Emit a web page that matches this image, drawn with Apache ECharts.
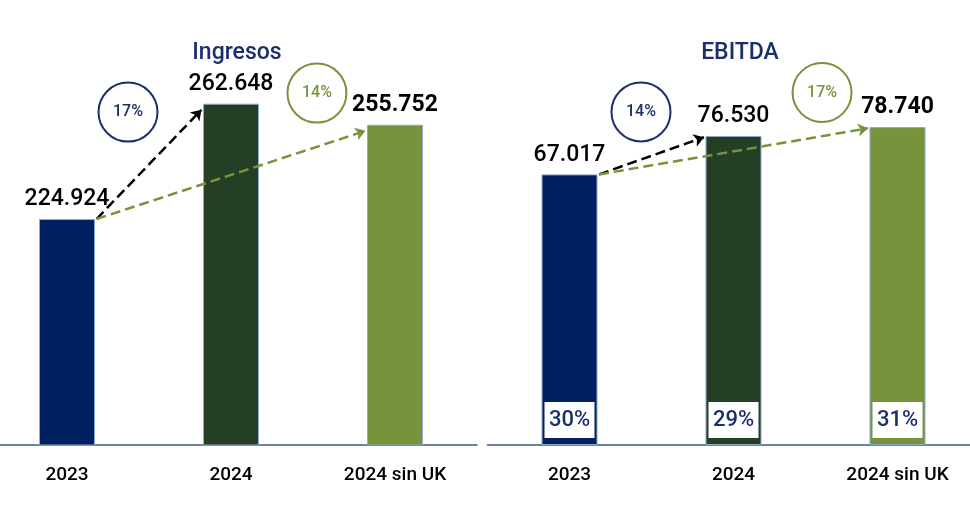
<!DOCTYPE html>
<html>
<head>
<meta charset="utf-8">
<script src="https://cdn.jsdelivr.net/npm/echarts@6/dist/echarts.min.js"></script>
<style>html,body{margin:0;padding:0;background:#fff}#c{width:970px;height:518px}</style>
</head>
<body>
<div id="c"></div>
<script>
// ---- data ----
const categories = ['2023', '2024', '2024 sin UK'];
const ingresos = [224.924, 262.648, 255.752];
const ingresosLabels = ['224.924', '262.648', '255.752'];
const ebitda = [67.017, 76.530, 78.740];
const ebitdaLabels = ['67.017', '76.530', '78.740'];
const ebitdaMargin = ['30%', '29%', '31%'];
const ingresosGrowth = ['17%', '14%'];   // 2023->2024, 2023->2024 sin UK
const ebitdaGrowth = ['14%', '17%'];

// ---- styles ----
const barColors = ['#012060', '#243F24', '#77933C'];
const navy = '#1B2F6B';
const green = '#77933C';
const FONT = 'Roboto, "DejaVu Sans Condensed", sans-serif';

// annotation positions (data space of each panel: x in category index units)
const ingCircles = [[0.372, 259.9], [1.524, 266.1]];
const ebCircles = [[0.436, 82.5], [1.54, 87.3]];

const HW = 0.18; // half bar width in category units

function barSeries(vals, labels, xi, yi) {
  return {
    type: 'bar', xAxisIndex: xi, yAxisIndex: yi, barWidth: 56, silent: true,
    data: vals.map((v, i) => ({
      value: v,
      itemStyle: { color: barColors[i] },
      label: { formatter: labels[i], fontWeight: i === 2 ? 'bold' : 500 }
    })),
    itemStyle: { borderColor: '#8FA9D0', borderWidth: 1 },
    label: { show: true, position: 'top', distance: 8, color: '#000', fontSize: 23, fontFamily: FONT }
  };
}

function arrows(vals, off, xi, yi) {
  return [
    { color: '#000', to: 1 },
    { color: green, to: 2 }
  ].map(a => ({
    type: 'lines', coordinateSystem: 'cartesian2d', xAxisIndex: xi, yAxisIndex: yi,
    silent: true, z: 5,
    symbol: ['none', 'arrow'], symbolSize: 10,
    lineStyle: { color: a.color, type: 'dashed', width: 2.5, opacity: 1, curveness: 0 },
    data: [{ coords: [[0 + HW, vals[0]], [a.to - HW, vals[a.to] - off]] }]
  }));
}

function circles(pos, texts, xi, yi) {
  const cols = [navy, green];
  return {
    type: 'scatter', xAxisIndex: xi, yAxisIndex: yi, silent: true, z: 6,
    symbol: 'circle', symbolSize: 59,
    data: pos.map((p, i) => ({
      value: p,
      itemStyle: { color: 'rgba(255,255,255,0)', borderColor: cols[i], borderWidth: 2, opacity: 1 },
      label: { show: true, position: 'inside', formatter: texts[i], color: cols[i], fontSize: 16, fontWeight: 500, fontFamily: FONT }
    }))
  };
}

const catAxis = (gi) => ({
  type: 'category', gridIndex: gi, data: categories,
  axisLine: { show: true, onZero: false, lineStyle: { color: '#3E5A8C', width: 1.5 } },
  axisTick: { show: false },
  axisLabel: { color: '#000', fontSize: 19, fontWeight: 500, fontFamily: FONT, margin: 21 }
});
const overlayAxis = (gi) => ({
  type: 'value', gridIndex: gi, min: -0.5, max: 2.5, show: false
});

const option = {
  animation: false,
  title: [
    { text: 'Ingresos', left: 232, top: 37, textAlign: 'center',
      textStyle: { color: navy, fontSize: 23, fontWeight: 500, fontFamily: FONT } },
    { text: 'EBITDA', left: 735, top: 37, textAlign: 'center',
      textStyle: { color: navy, fontSize: 23, fontWeight: 500, fontFamily: FONT } }
  ],
  grid: [
    { left: -15, width: 492, top: 17, height: 428, outerBoundsMode: 'none', containLabel: false },
    { left: 487.5, width: 492, top: 17, height: 428, outerBoundsMode: 'none', containLabel: false }
  ],
  xAxis: [catAxis(0), overlayAxis(0), catAxis(1), overlayAxis(1)],
  yAxis: [
    { type: 'value', gridIndex: 0, min: 151, max: 291, show: false, splitLine: { show: false } },
    { type: 'value', gridIndex: 1, min: 0, max: 106, show: false, splitLine: { show: false } }
  ],
  series: [
    barSeries(ingresos, ingresosLabels, 0, 0),
    ...arrows(ingresos, 2, 1, 0),
    circles(ingCircles, ingresosGrowth, 1, 0),
    barSeries(ebitda, ebitdaLabels, 2, 1),
    {
      type: 'bar', xAxisIndex: 2, yAxisIndex: 1, barWidth: 56, barGap: '-100%', silent: true, z: 4,
      data: ebitda,
      itemStyle: { color: 'rgba(0,0,0,0)' },
      label: {
        show: true, position: 'insideBottom', distance: 7,
        formatter: p => ebitdaMargin[p.dataIndex],
        backgroundColor: '#fff', width: 50, height: 36, lineHeight: 36, align: 'center',
        color: navy, fontSize: 22, fontWeight: 500, fontFamily: FONT
      }
    },
    ...arrows(ebitda, 0.3, 3, 1),
    circles(ebCircles, ebitdaGrowth, 3, 1)
  ]
};
echarts.init(document.getElementById('c')).setOption(option);
</script>
</body>
</html>
